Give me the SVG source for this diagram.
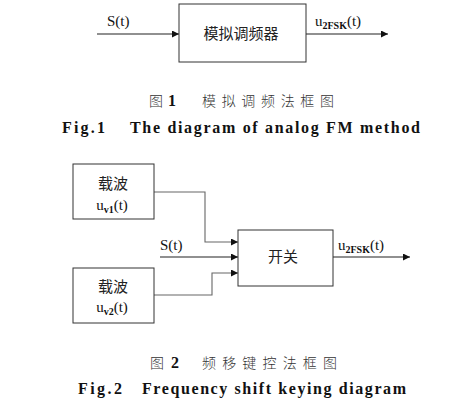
<svg xmlns="http://www.w3.org/2000/svg" width="473" height="416" viewBox="0 0 473 416">
<defs>
<marker id="ah" viewBox="0 0 10 10" refX="10" refY="5" markerWidth="8" markerHeight="7" markerUnits="userSpaceOnUse" orient="auto"><path d="M0,0 L10,5 L0,10 z" fill="#111"/></marker>
<style>
.box{fill:#fff;stroke:#333;stroke-width:1}
.ln{fill:none;stroke:#222;stroke-width:1.1}
.lg{fill:none;stroke:#666;stroke-width:1.1}
.t{font-family:"Liberation Serif",serif;font-size:15px;fill:#111}
.sub{font-family:"Liberation Serif",serif;font-size:10px;font-weight:bold;fill:#111}
.cn{font-family:"Noto Sans CJK SC",sans-serif;font-size:15px;fill:#222}
.cap{font-family:"Noto Sans CJK SC",sans-serif;font-size:14px;fill:#333;font-weight:300}
.en{font-family:"Liberation Serif",serif;font-size:16px;font-weight:bold;fill:#111}
</style>
</defs>
<rect width="473" height="416" fill="#fff"/>
<g id="connectors">
<line class="ln" x1="97" y1="34" x2="179" y2="34" marker-end="url(#ah)"/>
<line class="ln" x1="306" y1="34" x2="388" y2="34" marker-end="url(#ah)"/>
<polyline class="lg" points="154,192 205,192 205,242 238,242" marker-end="url(#ah)"/>
<line class="ln" x1="160" y1="257" x2="238" y2="257" marker-end="url(#ah)"/>
<polyline class="lg" points="154,295 212,295 212,273 238,273" marker-end="url(#ah)"/>
<line class="ln" x1="333" y1="257" x2="410" y2="257" marker-end="url(#ah)"/>
</g>
<g id="modulator">
<rect class="box" x="179" y="4" width="127" height="58"/>
<text class="cn" x="241" y="39" text-anchor="middle">模拟调频器</text>
</g>
<g id="label-s1"><text class="t" x="107" y="26">S(t)</text></g>
<g id="label-out1"><text class="t" x="315" y="26">u<tspan class="sub" dy="3">2FSK</tspan><tspan dy="-3">(t)</tspan></text></g>
<g id="carrier1">
<rect class="box" x="73" y="164" width="81" height="55"/>
<text class="cn" x="113" y="189" text-anchor="middle">载波</text>
<text class="t" x="112" y="210" text-anchor="middle">u<tspan class="sub" font-weight="normal" dy="3">v1</tspan><tspan dy="-3">(t)</tspan></text>
</g>
<g id="carrier2">
<rect class="box" x="73" y="268" width="81" height="55"/>
<text class="cn" x="113" y="292" text-anchor="middle">载波</text>
<text class="t" x="112" y="312" text-anchor="middle">u<tspan class="sub" font-weight="normal" dy="3">v2</tspan><tspan dy="-3">(t)</tspan></text>
</g>
<g id="switch">
<rect class="box" x="238" y="230" width="95" height="56"/>
<text class="cn" x="283" y="262" text-anchor="middle">开关</text>
</g>
<g id="label-s2"><text class="t" x="160" y="250">S(t)</text></g>
<g id="label-out2"><text class="t" x="338" y="250">u<tspan class="sub" dy="3">2FSK</tspan><tspan dy="-3">(t)</tspan></text></g>
<g id="captions">
<text class="cap" x="149" y="106">图</text>
<text class="en" x="168" y="106">1</text>
<text class="cap" x="202" y="106" textLength="132" lengthAdjust="spacing">模拟调频法框图</text>
<text class="en" x="62" y="133" textLength="43" lengthAdjust="spacing">Fig.1</text>
<text class="en" x="130" y="133" textLength="290" lengthAdjust="spacing">The diagram of analog FM method</text>
<text class="cap" x="150" y="368">图</text>
<text class="en" x="171" y="368">2</text>
<text class="cap" x="202" y="368" textLength="135" lengthAdjust="spacing">频移键控法框图</text>
<text class="en" x="78" y="394" textLength="44" lengthAdjust="spacing">Fig.2</text>
<text class="en" x="142" y="394" textLength="264" lengthAdjust="spacing">Frequency shift keying diagram</text>
</g>
</svg>
